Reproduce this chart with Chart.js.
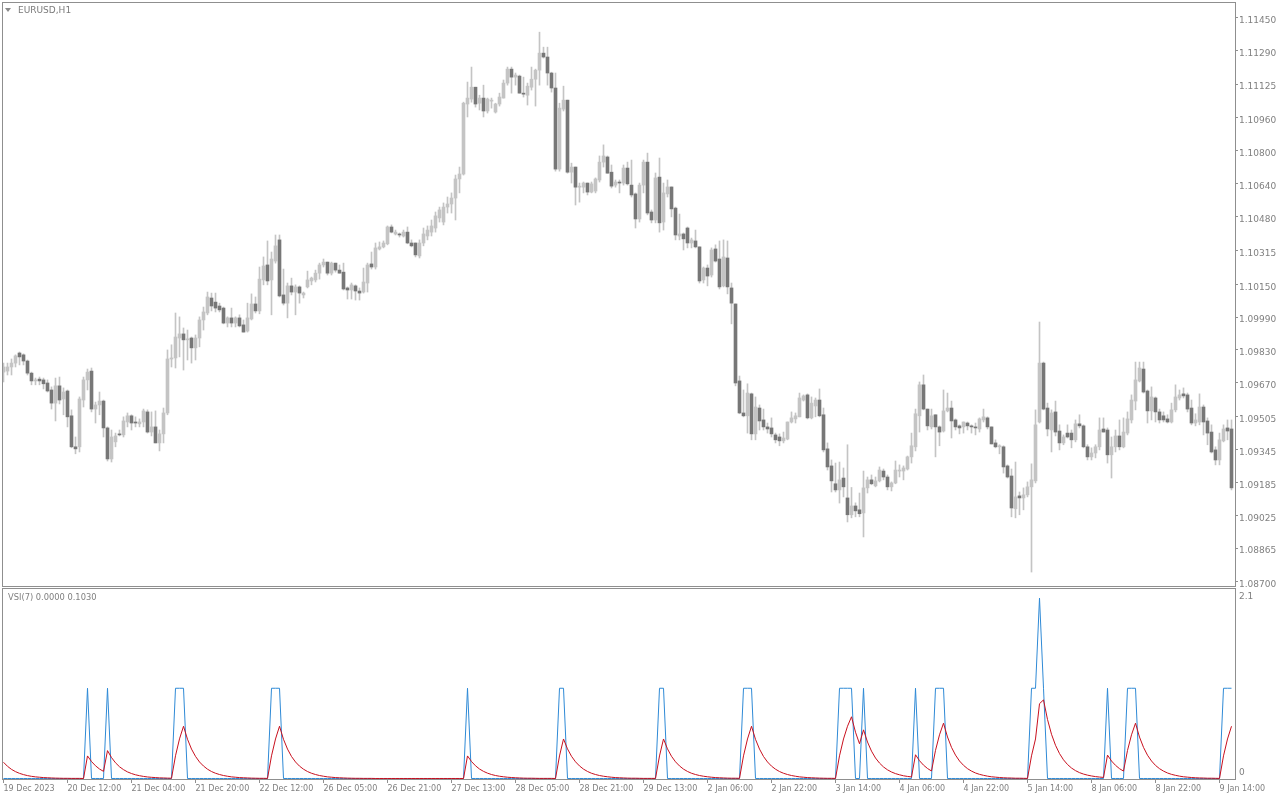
<!DOCTYPE html>
<html>
<head>
<meta charset="utf-8">
<title>EURUSD,H1</title>
<script src="https://cdn.jsdelivr.net/npm/chart.js@4.4.1/dist/chart.umd.min.js"></script>
<style>
  html, body { margin: 0; padding: 0; background: #fff; }
  #wrap { position: relative; width: 1280px; height: 800px; overflow: hidden; }
  #priceChart { position: absolute; left: 0; top: 0; }
  #vsiChart { position: absolute; left: 0; top: 588px; }
</style>
</head>
<body>
<div id="wrap">
  <canvas id="priceChart" width="1280" height="588"></canvas>
  <canvas id="vsiChart" width="1280" height="212"></canvas>
</div>
<script>
// EURUSD H1 candles, 19 Dec 2023 20:00 .. 9 Jan 2024 17:00
const opens = [
1.09722,1.09727,1.09747,1.09766,1.09815,1.09806,1.09776,1.09717,1.09679,1.09688,1.09684,1.09669,1.09635,1.09571,1.09655,1.09591,1.09630,1.09509,1.09358,1.09358,
1.09586,1.09684,1.09727,1.09542,1.09562,1.09581,1.09450,1.09299,1.09382,1.09421,1.09416,1.09479,1.09509,1.09479,1.09470,1.09479,1.09528,1.09430,1.09455,1.09377,
1.09421,1.09523,1.09786,1.09791,1.09888,1.09908,1.09879,1.09888,1.09840,1.09888,1.09976,1.10010,1.10083,1.10063,1.10044,1.10034,1.09961,1.09986,1.09961,1.09986,
1.09952,1.09922,1.09981,1.10054,1.10020,1.10171,1.10244,1.10171,1.10263,1.10366,1.10098,1.10058,1.10142,1.10112,1.10137,1.10098,1.10137,1.10166,1.10171,1.10204,
1.10244,1.10258,1.10204,1.10253,1.10219,1.10209,1.10132,1.10122,1.10142,1.10117,1.10112,1.10156,1.10249,1.10234,1.10322,1.10332,1.10347,1.10429,1.10395,1.10395,
1.10385,1.10404,1.10351,1.10351,1.10288,1.10351,1.10385,1.10404,1.10424,1.10473,1.10453,1.10526,1.10541,1.10570,1.10663,1.10687,1.11028,1.11052,1.11110,1.11032,
1.11057,1.10994,1.11042,1.10989,1.11028,1.11057,1.11130,1.11198,1.11159,1.11164,1.11081,1.11071,1.11110,1.11149,1.11193,1.11276,1.11257,1.11179,1.11106,1.10711,
1.11003,1.11047,1.10696,1.10721,1.10623,1.10623,1.10643,1.10599,1.10604,1.10658,1.10745,1.10770,1.10696,1.10633,1.10648,1.10643,1.10716,1.10633,1.10590,1.10468,
1.10633,1.10745,1.10502,1.10463,1.10672,1.10453,1.10590,1.10624,1.10521,1.10385,1.10395,1.10424,1.10351,1.10361,1.10332,1.10171,1.10229,1.10195,1.10322,1.10273,
1.10142,1.10278,1.10132,1.10054,1.09679,1.09523,1.09509,1.09616,1.09421,1.09547,1.09489,1.09455,1.09450,1.09416,1.09406,1.09387,1.09396,1.09479,1.09494,1.09504,
1.09586,1.09611,1.09499,1.09557,1.09586,1.09514,1.09348,1.09265,1.09178,1.09148,1.09206,1.09109,1.09027,1.09070,1.09051,1.09036,1.09158,1.09197,1.09168,1.09192,
1.09240,1.09211,1.09163,1.09182,1.09240,1.09240,1.09250,1.09309,1.09358,1.09509,1.09660,1.09542,1.09455,1.09514,1.09455,1.09435,1.09533,1.09547,1.09489,1.09460,
1.09455,1.09474,1.09460,1.09455,1.09445,1.09489,1.09499,1.09455,1.09377,1.09358,1.09358,1.09265,1.09216,1.09056,1.09119,1.09109,1.09124,1.09163,1.09192,1.09479,
1.09766,1.09547,1.09440,1.09528,1.09435,1.09377,1.09425,1.09425,1.09392,1.09470,1.09460,1.09358,1.09309,1.09328,1.09358,1.09445,1.09440,1.09319,1.09358,1.09411,
1.09358,1.09425,1.09489,1.09581,1.09679,1.09737,1.09630,1.09533,1.09596,1.09528,1.09509,1.09494,1.09479,1.09538,1.09596,1.09616,1.09611,1.09547,1.09474,1.09479,
1.09552,1.09484,1.09430,1.09343,1.09294,1.09387,1.09450,1.09445
];
const highs = [
1.09766,1.09766,1.09786,1.09806,1.09820,1.09811,1.09781,1.09722,1.09693,1.09698,1.09693,1.09684,1.09650,1.09693,1.09698,1.09645,1.09635,1.09538,1.09406,1.09601,
1.09698,1.09737,1.09742,1.09576,1.09625,1.09586,1.09455,1.09440,1.09425,1.09440,1.09504,1.09523,1.09514,1.09504,1.09494,1.09542,1.09538,1.09528,1.09533,1.09440,
1.09547,1.09830,1.09855,1.10010,1.09991,1.09937,1.09927,1.09893,1.09903,1.09991,1.10039,1.10112,1.10107,1.10107,1.10058,1.10039,1.09991,1.10034,1.09991,1.10001,
1.09976,1.10058,1.10103,1.10088,1.10234,1.10283,1.10361,1.10307,1.10390,1.10390,1.10224,1.10156,1.10180,1.10147,1.10142,1.10112,1.10214,1.10185,1.10219,1.10253,
1.10273,1.10258,1.10258,1.10253,1.10244,1.10253,1.10137,1.10156,1.10147,1.10132,1.10229,1.10253,1.10307,1.10351,1.10356,1.10361,1.10434,1.10439,1.10414,1.10400,
1.10414,1.10429,1.10366,1.10351,1.10366,1.10424,1.10434,1.10463,1.10502,1.10526,1.10546,1.10575,1.10595,1.10682,1.10721,1.11037,1.11135,1.11208,1.11110,1.11071,
1.11120,1.11057,1.11057,1.11032,1.11081,1.11145,1.11208,1.11208,1.11179,1.11169,1.11159,1.11130,1.11208,1.11198,1.11378,1.11305,1.11305,1.11183,1.11179,1.11032,
1.11115,1.11047,1.10740,1.10721,1.10643,1.10648,1.10643,1.10648,1.10668,1.10775,1.10829,1.10775,1.10731,1.10658,1.10658,1.10731,1.10745,1.10755,1.10595,1.10643,
1.10755,1.10789,1.10512,1.10692,1.10765,1.10643,1.10658,1.10624,1.10526,1.10492,1.10400,1.10429,1.10375,1.10414,1.10332,1.10234,1.10244,1.10327,1.10342,1.10361,
1.10366,1.10361,1.10156,1.10054,1.09703,1.09635,1.09665,1.09620,1.09601,1.09562,1.09542,1.09474,1.09499,1.09425,1.09421,1.09430,1.09479,1.09528,1.09523,1.09620,
1.09611,1.09616,1.09601,1.09596,1.09640,1.09547,1.09377,1.09294,1.09279,1.09284,1.09255,1.09368,1.09160,1.09085,1.09133,1.09240,1.09211,1.09221,1.09211,1.09260,
1.09250,1.09221,1.09187,1.09289,1.09270,1.09265,1.09313,1.09425,1.09542,1.09674,1.09708,1.09542,1.09542,1.09514,1.09460,1.09635,1.09620,1.09581,1.09494,1.09465,
1.09479,1.09479,1.09465,1.09474,1.09499,1.09542,1.09504,1.09455,1.09392,1.09368,1.09363,1.09270,1.09250,1.09284,1.09138,1.09158,1.09187,1.09275,1.09538,1.09966,
1.09771,1.09571,1.09538,1.09581,1.09465,1.09416,1.09465,1.09440,1.09489,1.09514,1.09465,1.09368,1.09353,1.09368,1.09499,1.09499,1.09450,1.09406,1.09440,1.09489,
1.09499,1.09528,1.09611,1.09771,1.09771,1.09771,1.09635,1.09650,1.09601,1.09542,1.09528,1.09514,1.09571,1.09660,1.09635,1.09645,1.09620,1.09586,1.09519,1.09616,
1.09562,1.09499,1.09465,1.09358,1.09425,1.09465,1.09489,1.09489
];
const lows = [
1.09674,1.09708,1.09708,1.09747,1.09757,1.09757,1.09708,1.09660,1.09660,1.09660,1.09640,1.09625,1.09542,1.09484,1.09567,1.09514,1.09455,1.09353,1.09324,1.09333,
1.09552,1.09635,1.09528,1.09474,1.09514,1.09406,1.09289,1.09284,1.09358,1.09411,1.09406,1.09455,1.09440,1.09455,1.09455,1.09455,1.09425,1.09411,1.09377,1.09338,
1.09377,1.09514,1.09747,1.09742,1.09796,1.09732,1.09781,1.09766,1.09781,1.09845,1.09927,1.10001,1.10020,1.10015,1.10015,1.09957,1.09942,1.09942,1.09942,1.09942,
1.09917,1.09917,1.09976,1.10010,1.10006,1.10147,1.10147,1.10001,1.10253,1.10088,1.10049,1.09986,1.10098,1.10001,1.10058,1.10083,1.10132,1.10147,1.10161,1.10175,
1.10234,1.10195,1.10195,1.10209,1.10204,1.10122,1.10078,1.10078,1.10073,1.10073,1.10107,1.10112,1.10224,1.10224,1.10317,1.10327,1.10342,1.10400,1.10390,1.10380,
1.10380,1.10347,1.10332,1.10283,1.10278,1.10337,1.10366,1.10385,1.10404,1.10453,1.10439,1.10497,1.10497,1.10463,1.10595,1.10682,1.10965,1.11037,1.11013,1.10999,
1.10965,1.10984,1.11008,1.10984,1.11018,1.11057,1.11120,1.11081,1.11120,1.11081,1.11062,1.11023,1.11096,1.11018,1.11120,1.11252,1.11120,1.11086,1.10701,1.10701,
1.10994,1.10691,1.10643,1.10536,1.10550,1.10595,1.10585,1.10595,1.10595,1.10648,1.10721,1.10691,1.10619,1.10623,1.10595,1.10633,1.10633,1.10575,1.10424,1.10453,
1.10595,1.10488,1.10449,1.10449,1.10404,1.10414,1.10575,1.10478,1.10366,1.10366,1.10317,1.10327,1.10327,1.10327,1.10156,1.10156,1.10142,1.10185,1.10258,1.10127,
1.10137,1.10103,1.09957,1.09655,1.09519,1.09504,1.09425,1.09392,1.09392,1.09440,1.09440,1.09425,1.09406,1.09377,1.09363,1.09377,1.09392,1.09474,1.09474,1.09504,
1.09581,1.09494,1.09494,1.09504,1.09504,1.09333,1.09245,1.09138,1.09138,1.09084,1.09114,1.08992,1.09012,1.09017,1.09017,1.08919,1.09133,1.09173,1.09163,1.09187,
1.09197,1.09148,1.09143,1.09178,1.09211,1.09197,1.09245,1.09279,1.09338,1.09430,1.09538,1.09440,1.09445,1.09309,1.09363,1.09430,1.09528,1.09401,1.09440,1.09421,
1.09425,1.09440,1.09425,1.09416,1.09430,1.09479,1.09445,1.09372,1.09353,1.09324,1.09230,1.09206,1.09017,1.09012,1.09027,1.09051,1.09114,1.08748,1.09182,1.09474,
1.09538,1.09411,1.09333,1.09411,1.09343,1.09368,1.09401,1.09353,1.09382,1.09450,1.09353,1.09294,1.09294,1.09304,1.09343,1.09430,1.09279,1.09206,1.09333,1.09343,
1.09353,1.09416,1.09474,1.09538,1.09674,1.09620,1.09474,1.09489,1.09479,1.09474,1.09479,1.09474,1.09474,1.09528,1.09586,1.09596,1.09528,1.09465,1.09460,1.09465,
1.09416,1.09368,1.09328,1.09270,1.09270,1.09382,1.09392,1.09148
];
const closes = [
1.09747,1.09747,1.09766,1.09801,1.09796,1.09776,1.09717,1.09679,1.09684,1.09679,1.09665,1.09630,1.09571,1.09655,1.09586,1.09625,1.09504,1.09358,1.09348,1.09591,
1.09684,1.09722,1.09542,1.09562,1.09581,1.09450,1.09299,1.09406,1.09411,1.09416,1.09484,1.09509,1.09474,1.09474,1.09479,1.09533,1.09430,1.09455,1.09377,1.09421,
1.09523,1.09786,1.09791,1.09893,1.09908,1.09879,1.09883,1.09840,1.09888,1.09976,1.10015,1.10088,1.10044,1.10034,1.10025,1.09961,1.09986,1.09961,1.09986,1.09947,
1.09917,1.09986,1.10054,1.10020,1.10175,1.10239,1.10166,1.10273,1.10337,1.10093,1.10058,1.10142,1.10112,1.10137,1.10107,1.10107,1.10171,1.10180,1.10204,1.10244,
1.10258,1.10204,1.10253,1.10219,1.10204,1.10127,1.10122,1.10147,1.10117,1.10107,1.10161,1.10244,1.10234,1.10327,1.10332,1.10351,1.10429,1.10404,1.10404,1.10390,
1.10404,1.10351,1.10337,1.10293,1.10351,1.10395,1.10414,1.10434,1.10483,1.10512,1.10526,1.10541,1.10570,1.10663,1.10687,1.11032,1.11057,1.11110,1.11028,1.11057,
1.10994,1.11052,1.11047,1.11028,1.11062,1.11130,1.11198,1.11159,1.11169,1.11081,1.11076,1.11115,1.11149,1.11193,1.11276,1.11257,1.11179,1.11106,1.10711,1.11008,
1.11047,1.10696,1.10721,1.10623,1.10628,1.10643,1.10599,1.10639,1.10663,1.10745,1.10775,1.10691,1.10628,1.10648,1.10643,1.10716,1.10639,1.10585,1.10468,1.10633,
1.10745,1.10497,1.10463,1.10668,1.10449,1.10595,1.10624,1.10517,1.10390,1.10395,1.10371,1.10351,1.10366,1.10332,1.10166,1.10229,1.10190,1.10317,1.10263,1.10137,
1.10283,1.10137,1.10058,1.09669,1.09523,1.09509,1.09620,1.09421,1.09552,1.09484,1.09455,1.09445,1.09421,1.09392,1.09387,1.09401,1.09479,1.09499,1.09509,1.09596,
1.09606,1.09499,1.09571,1.09586,1.09509,1.09343,1.09260,1.09192,1.09148,1.09197,1.09163,1.09027,1.09070,1.09046,1.09032,1.09158,1.09197,1.09178,1.09192,1.09245,
1.09211,1.09163,1.09182,1.09245,1.09245,1.09255,1.09309,1.09363,1.09519,1.09660,1.09542,1.09460,1.09509,1.09455,1.09430,1.09533,1.09547,1.09484,1.09455,1.09450,
1.09479,1.09460,1.09455,1.09450,1.09494,1.09504,1.09455,1.09372,1.09358,1.09363,1.09260,1.09211,1.09060,1.09114,1.09109,1.09124,1.09163,1.09197,1.09465,1.09766,
1.09542,1.09445,1.09523,1.09430,1.09377,1.09406,1.09406,1.09392,1.09470,1.09460,1.09358,1.09309,1.09328,1.09358,1.09440,1.09430,1.09319,1.09358,1.09411,1.09358,
1.09430,1.09494,1.09586,1.09684,1.09742,1.09625,1.09533,1.09601,1.09528,1.09489,1.09489,1.09479,1.09538,1.09601,1.09611,1.09606,1.09542,1.09474,1.09489,1.09552,
1.09479,1.09425,1.09333,1.09294,1.09392,1.09445,1.09435,1.09158
];

// VSI(7): spike line (blue) and its smoothing (red)
const vsiSpikes = [
0,0,0,0,0,0,0,0,0,0,0,0,0,0,0,0,0,0,0,0,
0,1,0,0,0,0,1,0,0,0,0,0,0,0,0,0,0,0,0,0,
0,0,0,1,1,1,0,0,0,0,0,0,0,0,0,0,0,0,0,0,
0,0,0,0,0,0,0,1,1,1,0,0,0,0,0,0,0,0,0,0,
0,0,0,0,0,0,0,0,0,0,0,0,0,0,0,0,0,0,0,0,
0,0,0,0,0,0,0,0,0,0,0,0,0,0,0,0,1,0,0,0,
0,0,0,0,0,0,0,0,0,0,0,0,0,0,0,0,0,0,0,1,
1,0,0,0,0,0,0,0,0,0,0,0,0,0,0,0,0,0,0,0,
0,0,0,0,1,1,0,0,0,0,0,0,0,0,0,0,0,0,0,0,
0,0,0,0,0,1,1,1,0,0,0,0,0,0,0,0,0,0,0,0,
0,0,0,0,0,0,0,0,0,1,1,1,1,0,0,1,0,0,0,0,
0,0,0,0,0,0,0,0,1,0,0,0,0,1,1,1,0,0,0,0,
0,0,0,0,0,0,0,0,0,0,0,0,0,0,0,0,0,1,1,2,
1,0,0,0,0,0,0,0,0,0,0,0,0,0,0,0,1,0,0,0,
0,1,1,1,0,0,0,0,0,0,0,0,0,0,0,0,0,0,0,0,
0,0,0,0,0,1,1,1
];
const vsiSmooth = [
.18,.135,.101,.076,.057,.043,.032,.024,.018,.014,.01,.008,.006,.004,.003,.002,.002,.001,.001,.001,
0,.25,.188,.141,.105,.079,.309,.232,.174,.13,.098,.073,.055,.041,.031,.023,.017,.013,.01,.007,
.006,.004,.003,.252,.439,.579,.435,.326,.245,.183,.138,.103,.077,.058,.044,.033,.025,.018,.014,.01,
.008,.006,.004,.003,.002,.002,.001,.251,.438,.579,.434,.326,.244,.183,.137,.103,.077,.058,.044,.033,
.025,.018,.014,.01,.008,.006,.004,.003,.002,.002,.001,.001,.001,0,0,0,0,0,0,0,
0,0,0,0,0,0,0,0,0,0,0,0,0,0,0,0,.25,.188,.141,.105,
.079,.059,.044,.033,.025,.019,.014,.011,.008,.006,.004,.003,.003,.002,.001,.001,.001,.001,0,.25,
.438,.328,.246,.185,.139,.104,.078,.058,.044,.033,.025,.019,.014,.01,.008,.006,.004,.003,.003,.002,
.001,.001,.001,.001,.25,.438,.328,.246,.185,.139,.104,.078,.058,.044,.033,.025,.019,.014,.01,.008,
.006,.004,.003,.003,.002,.251,.438,.579,.434,.326,.244,.183,.137,.103,.077,.058,.044,.033,.025,.018,
.014,.01,.008,.006,.004,.003,.002,.002,.001,.251,.438,.579,.684,.513,.385,.539,.404,.303,.227,.171,
.128,.096,.072,.054,.041,.03,.023,.017,.263,.197,.148,.111,.083,.312,.484,.613,.46,.345,.259,.194,
.146,.109,.082,.061,.046,.035,.026,.019,.015,.011,.008,.006,.005,.003,.003,.002,.001,.251,.438,.829,
.871,.654,.49,.368,.276,.207,.155,.116,.087,.065,.049,.037,.028,.021,.016,.012,.259,.194,.146,.109,
.082,.311,.484,.613,.459,.345,.258,.194,.145,.109,.082,.061,.046,.035,.026,.019,.015,.011,.008,.006,
.005,.003,.003,.002,.001,.251,.438,.579
];

const priceTicks = [1.11450,1.11290,1.11125,1.10960,1.10800,1.10640,1.10480,1.10315,1.10150,
  1.09990,1.09830,1.09670,1.09505,1.09345,1.09185,1.09025,1.08865,1.08700];
const timeTickBars = [0,16,32,48,64,80,96,112,128,144,160,176,192,208,224,240,256,272,288,304];
const timeTickLabels = ['19 Dec 2023','20 Dec 12:00','21 Dec 04:00','21 Dec 20:00','22 Dec 12:00',
  '26 Dec 05:00','26 Dec 21:00','27 Dec 13:00','28 Dec 05:00','28 Dec 21:00','29 Dec 13:00',
  '2 Jan 06:00','2 Jan 22:00','3 Jan 14:00','4 Jan 06:00','4 Jan 22:00','5 Jan 14:00',
  '8 Jan 06:00','8 Jan 22:00','9 Jan 14:00'];
const vsiAxisLabels = ['2.1', '0'];

const bullColor = '#c4c4c4';
const bearColor = '#777777';
const wickColor = '#c4c4c4';
const frameColor = '#8f8f8f';
const textGray = '#808080';
const spikeColor = '#2f8ad6';
const smoothColor = '#c8101e';

const barIdx = opens.map((_, i) => i);
const xMin = -0.375, xMax = 307.875;

function frameBox(shiftTop, extraHeight) {
  return {
    id: 'frameBox',
    afterDraw(chart) {
      const { ctx, chartArea: a } = chart;
      ctx.save();
      ctx.strokeStyle = frameColor;
      ctx.lineWidth = 1;
      ctx.strokeRect(a.left + 0.5, a.top + shiftTop, a.right - a.left, a.bottom - a.top + extraHeight);
      ctx.restore();
    }
  };
}

const symbolTitle = {
  id: 'symbolTitle',
  afterDraw(chart) {
    const ctx = chart.ctx;
    ctx.save();
    ctx.fillStyle = '#8a8a8a';
    ctx.beginPath();
    ctx.moveTo(5, 8);
    ctx.lineTo(11, 8);
    ctx.lineTo(8, 12);
    ctx.closePath();
    ctx.fill();
    ctx.fillStyle = '#7a7a7a';
    ctx.font = '9px "DejaVu Sans"';
    ctx.textBaseline = 'middle';
    ctx.fillText('EURUSD,H1', 18, 10.5);
    ctx.restore();
  }
};

const vsiText = {
  id: 'vsiText',
  afterDraw(chart) {
    const ctx = chart.ctx;
    const y = chart.scales.y;
    ctx.save();
    ctx.fillStyle = textGray;
    ctx.textBaseline = 'middle';
    ctx.font = '8.3px "DejaVu Sans"';
    ctx.fillText('VSI(7) 0.0000 0.1030', 8, 9.5);
    ctx.font = '9px "DejaVu Sans"';
    ctx.fillText(vsiAxisLabels[0], 1239, y.getPixelForValue(2.1) + 7.5);
    ctx.fillText(vsiAxisLabels[1], 1239, y.getPixelForValue(0) - 6);
    ctx.restore();
  }
};

//Price pane
new Chart(document.getElementById('priceChart'), {
  type: 'bar',
  data: {
    datasets: [
      {
        label: 'body',
        data: barIdx.map(i => ({ x: i, y: [opens[i], closes[i]] })),
        backgroundColor: barIdx.map(i => closes[i] >= opens[i] ? bullColor : bearColor),
        barThickness: 3,
        minBarLength: 1,
        grouped: false
      },
      {
        label: 'wick',
        data: barIdx.map(i => ({ x: i, y: [lows[i], highs[i]] })),
        backgroundColor: wickColor,
        barThickness: 1,
        grouped: false
      }
    ]
  },
  options: {
    responsive: false,
    animation: false,
    events: [],
    layout: { padding: { left: 2, top: 2, right: 0, bottom: 2 } },
    plugins: { legend: { display: false }, tooltip: { enabled: false } },
    scales: {
      x: { type: 'linear', display: false, min: xMin, max: xMax, offset: false },
      y: {
        position: 'right',
        min: 1.0868,
        max: 1.11525,
        afterBuildTicks: s => { s.ticks = priceTicks.map(v => ({ value: v })); },
        afterFit: s => { s.width = 45; s.paddingTop = 0; s.paddingBottom = 0; },
        ticks: {
          color: textGray,
          padding: 1,
          labelOffset: 3,
          font: { family: 'DejaVu Sans', size: 9 },
          callback: v => v.toFixed(5)
        },
        grid: { drawOnChartArea: false, tickLength: 3, color: frameColor },
        border: { display: true, color: frameColor }
      }
    }
  },
  plugins: [frameBox(0.5, 0), symbolTitle]
});

//VSI pane
new Chart(document.getElementById('vsiChart'), {
  type: 'line',
  data: {
    datasets: [
      {
        label: 'smooth',
        data: barIdx.map(i => ({ x: i, y: vsiSmooth[i] })),
        borderColor: smoothColor,
        borderWidth: 1,
        pointRadius: 0,
        tension: 0
      },
      {
        label: 'spike',
        data: barIdx.map(i => ({ x: i, y: vsiSpikes[i] })),
        borderColor: spikeColor,
        borderWidth: 1,
        pointRadius: 0,
        tension: 0
      }
    ]
  },
  options: {
    responsive: false,
    animation: false,
    events: [],
    layout: { padding: { left: 2, top: 1, right: 0, bottom: 0 } },
    plugins: { legend: { display: false }, tooltip: { enabled: false } },
    scales: {
      x: {
        type: 'linear',
        position: 'bottom',
        min: xMin,
        max: xMax,
        afterBuildTicks: s => { s.ticks = timeTickBars.map(v => ({ value: v })); },
        afterFit: s => { s.height = 21; s.paddingLeft = 0; s.paddingRight = 0; },
        ticks: {
          autoSkip: false,
          maxRotation: 0,
          minRotation: 0,
          align: 'start',
          padding: 1,
          color: textGray,
          font: { family: 'DejaVu Sans', size: 8 },
          callback: (v, i) => timeTickLabels[i]
        },
        grid: { drawOnChartArea: false, tickLength: 4, color: frameColor },
        border: { display: true, color: frameColor }
      },
      y: {
        position: 'right',
        min: -0.0056,
        max: 2.1,
        afterFit: s => { s.width = 45; s.paddingTop = 0; s.paddingBottom = 0; },
        ticks: { display: false },
        grid: { display: false },
        border: { display: true, color: frameColor }
      }
    }
  },
  plugins: [frameBox(-0.5, 1), vsiText]
});
</script>
</body>
</html>
